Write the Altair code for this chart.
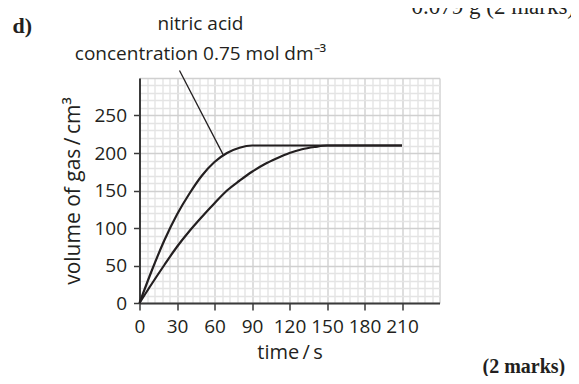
import altair as alt
import pandas as pd

# --- data ---
t_fast = [0, 10, 20, 30, 40, 50, 60, 70, 80, 90, 210]
v_fast = [0, 44, 84, 118, 146, 170, 188, 200, 207, 210, 210]

t_slow = [0, 10, 20, 30, 40, 50, 60, 70, 80, 90, 100, 110, 120, 130, 140, 150, 210]
v_slow = [0, 26, 51, 75, 96, 115, 133, 150, 163, 175, 185, 193, 200, 205, 208, 210, 210]

pointer_t = [32, 67]
pointer_v = [310, 197.5]

x_ticks = list(range(0, 241, 6))
y_ticks = list(range(0, 301, 10))

label_line1 = "nitric acid"
label_line2 = "concentration 0.75 mol dm\u207b\u00b3"

INK = "#231f20"
FONT = "Open Sans"

df = pd.concat([
    pd.DataFrame({"t": t_fast, "v": v_fast, "s": "fast"}),
    pd.DataFrame({"t": t_slow, "v": v_slow, "s": "slow"}),
])
ptr = pd.DataFrame({"t": [pointer_t[0]], "v": [pointer_v[0]],
                    "t2": [pointer_t[1]], "v2": [pointer_v[1]]})

xscale = alt.Scale(domain=[0, 240], nice=False, zero=False)
yscale = alt.Scale(domain=[0, 300], nice=False, zero=False)

xaxis = alt.Axis(
    values=x_ticks, grid=True,
    gridColor=alt.condition("datum.value % 30 === 0", alt.value("#d0d0d0"), alt.value("#e4e4e4")),
    gridWidth=1.4,
    labelExpr="(datum.value % 30 === 0 && datum.value <= 210) ? datum.label : ''",
    tickOpacity=alt.condition("datum.value % 30 === 0 && datum.value <= 210", alt.value(1), alt.value(0)),
    tickSize=7, tickWidth=1.5, tickColor="#3a3a3a",
    domainColor="#3a3a3a", domainWidth=2,
    labelFont=FONT, labelFontSize=19, labelColor=INK, labelPadding=7,
    labelOverlap=False, labelFlush=False,
    title="time\u2009/\u2009s", titleFont=FONT, titleFontSize=20, titleFontWeight="normal",
    titleColor=INK, titlePadding=6,
)
yaxis = alt.Axis(
    values=y_ticks, grid=True,
    gridColor=alt.condition("datum.value % 50 === 0", alt.value("#d0d0d0"), alt.value("#e4e4e4")),
    gridWidth=1.4,
    labelExpr="(datum.value % 50 === 0 && datum.value <= 250) ? datum.label : ''",
    tickOpacity=alt.condition("datum.value % 50 === 0 && datum.value <= 250", alt.value(1), alt.value(0)),
    tickSize=6, tickWidth=1.5, tickColor="#3a3a3a",
    domainColor="#3a3a3a", domainWidth=2,
    labelFont=FONT, labelFontSize=19, labelColor=INK, labelPadding=7,
    labelOverlap=False, labelFlush=False,
    title="volume of gas\u2009/\u2009cm\u00b3", titleFont=FONT, titleFontSize=21,
    titleFontWeight="normal", titleColor=INK, titlePadding=10,
)

lines = alt.Chart(df).mark_line(color=INK, strokeWidth=2.2, interpolate="monotone").encode(
    x=alt.X("t:Q", scale=xscale, axis=xaxis),
    y=alt.Y("v:Q", scale=yscale, axis=yaxis),
    detail="s:N",
)

pointer = alt.Chart(ptr).mark_rule(color=INK, strokeWidth=1.3).encode(
    x=alt.X("t:Q", scale=xscale, axis=xaxis), y=alt.Y("v:Q", scale=yscale, axis=yaxis),
    x2="t2:Q", y2="v2:Q",
)

def txt(s, x, y, font=FONT, size=17, weight="normal", align="center"):
    return alt.Chart(pd.DataFrame({"s": [s]})).mark_text(
        font=font, fontSize=size, fontWeight=weight, color=INK, align=align,
        baseline="alphabetic",
    ).encode(x=alt.value(x), y=alt.value(y), text="s:N")

annot = [
    txt(label_line1, 61, -48, size=19),
    txt(label_line2, 61, -18, size=19),
    txt("d)", -127, -45, font="Liberation Serif", size=22, weight="bold", align="left"),
    txt("(2 marks)", 343, 295, font="Liberation Serif", size=20, weight="bold", align="left"),
    txt("0.079 g (2 marks)", 272, -64, font="Liberation Serif", size=23, weight="normal", align="left"),
]

chart = alt.layer(lines, pointer, *annot).properties(
    width=300, height=225,
    autosize=alt.AutoSizeParams(type="none"),
    padding={"left": 131.5, "top": 70, "right": 131.5, "bottom": 73},
    background="white",
).configure_view(stroke=None)

chart.save("out.html", embed_options={"renderer": "svg", "actions": False})
